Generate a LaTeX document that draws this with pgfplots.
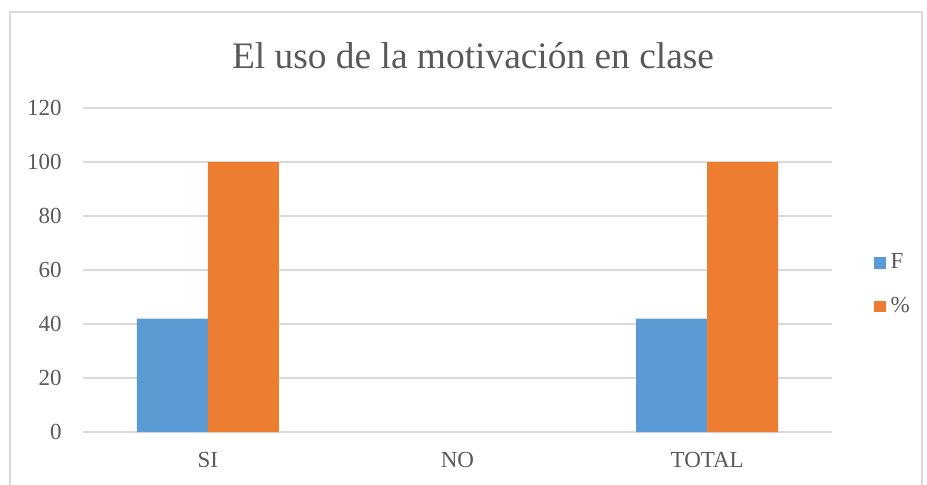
\documentclass[border=0pt]{standalone}
\usepackage{pgfplots}
\pgfplotsset{compat=1.18}
\usepackage{fontspec}
\setmainfont{Liberation Serif}
\definecolor{txt}{HTML}{595959}
\definecolor{gridc}{HTML}{D9D9D9}
\definecolor{cF}{HTML}{5B9BD5}
\definecolor{cP}{HTML}{ED7D31}
\begin{document}
\begin{tikzpicture}
% 1px of the reference = 0.5pt
\path[use as bounding box] (0,0) rectangle (463.5pt,242pt);
\clip (0,0) rectangle (463.5pt,242pt);
\draw[gridc, line width=0.75pt] (5pt,-10pt) rectangle (461pt,236pt);
\node[anchor=base, text=txt, font=\fontsize{18.7}{22}\selectfont, inner sep=0pt]
  at (236.5pt,208pt) {El uso de la motivación en clase};
\begin{axis}[
  at={(41.5pt,26pt)}, anchor=south west,
  scale only axis, width=374.5pt, height=162pt,
  ybar=0pt, bar width=35.5pt,
  xmin=-0.5, xmax=2.5, ymin=0, ymax=120,
  xtick={0,1,2}, xticklabels={SI,NO,TOTAL},
  ytick={0,20,...,120},
  major tick length=0pt,
  axis line style={draw=none},
  ymajorgrids, grid style={gridc, line width=0.75pt},
  /pgf/number format/assume math mode=true,
  tick label style={font=\fontsize{11.5}{13}\selectfont, text=txt},
  yticklabel style={inner sep=0pt, xshift=-10.5pt},
  xticklabel style={inner sep=0pt, anchor=north, yshift=-10pt},
  legend image code/.code={\path[#1] (0pt,-2.8pt) rectangle (5.6pt,2.8pt);},
  legend style={draw=none, fill=none, at={(1,0.455)}, anchor=west,
    xshift=21pt, inner sep=0pt, row sep=10.5pt, column sep=1.5pt,
    font=\fontsize{11.5}{13}\selectfont, text=txt,
    nodes={inner sep=1pt}},
  legend cell align=left,
  % zero-height bars are not drawn, as in the source chart
  y filter/.expression={y==0 ? nan : y},
  unbounded coords=discard,
]
\addplot[fill=cF, draw=none] coordinates {(0,42) (1,0) (2,42)};
\addplot[fill=cP, draw=none] coordinates {(0,100) (1,0) (2,100)};
\legend{F, \%}
\end{axis}
\end{tikzpicture}
\end{document}
